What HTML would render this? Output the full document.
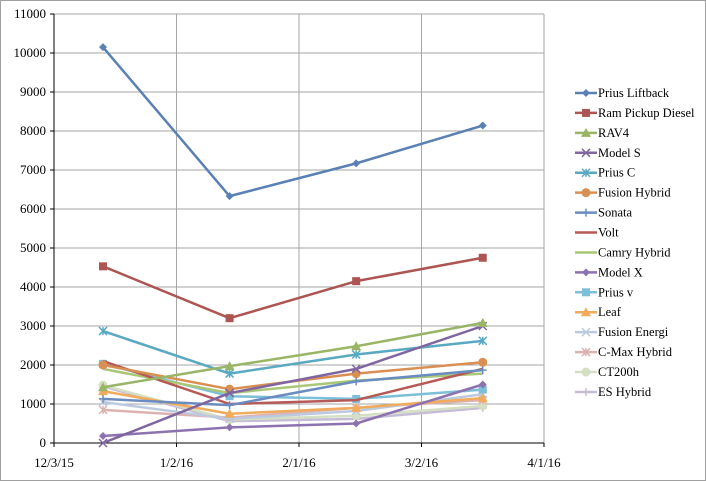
<!DOCTYPE html>
<html><head><meta charset="utf-8"><style>
body{margin:0;background:#fff}
svg{display:block;font-family:"Liberation Serif",serif}
</style></head><body>
<svg id="chart" width="706" height="481" viewBox="0 0 706 481"></svg>
<script>
const xTickLabels=["12/3/15","1/2/16","2/1/16","3/2/16","4/1/16"];
const yTicks=[0,1000,2000,3000,4000,5000,6000,7000,8000,9000,10000,11000];
const pointDays=[12,43,74,105];
const seriesNames=["Prius Liftback","Ram Pickup Diesel","RAV4","Model S","Prius C","Fusion Hybrid","Sonata","Volt","Camry Hybrid","Model X","Prius v","Leaf","Fusion Energi","C-Max Hybrid","CT200h","ES Hybrid"];
const priusLiftback=[10150,6330,7170,8140];
const ramPickup=[4530,3200,4150,4750];
const rav4=[1430,1970,2480,3080];
const modelS=[0,1280,1900,3000];
const priusC=[2870,1780,2270,2620];
const fusionHybrid=[2000,1380,1780,2070];
const sonata=[1130,970,1580,1870];
const volt=[2100,1000,1100,1900];
const camry=[1900,1280,1600,1780];
const modelX=[180,400,500,1500];
const priusV=[2030,1200,1130,1370];
const leaf=[1330,750,900,1150];
const fusionEnergi=[1050,620,820,1250];
const cmax=[850,650,900,1100];
const ct200h=[1480,600,700,950];
const esHybrid=[1450,560,620,900];
const seriesValues=[priusLiftback,ramPickup,rav4,modelS,priusC,fusionHybrid,sonata,volt,camry,modelX,priusV,leaf,fusionEnergi,cmax,ct200h,esHybrid];
const colors=["#5a80b4","#ad5552","#9ab566","#7f66a0","#5aa9c2","#d98f52","#6a8cc0","#b65a57","#a9c777","#8d72b0","#7cbfd8","#f0ab5c","#bccadf","#ddb3b1","#d5dfc3","#c5bcd6"];
const markers=["diamond","square","triangle","x","star","circle","plus","none","none","diamond","square","triangle","x","star","circle","plus"];
const NS="http://www.w3.org/2000/svg";
const svg=document.getElementById("chart");
const X0=54,X1=544,Y0=443,Y1=14,DAYS=120;
const xs=d=>X0+(X1-X0)*d/DAYS;
const ys=v=>Y0-(Y0-Y1)*v/11000;
function mk(t,a,p){const e=document.createElementNS(NS,t);for(const k in a)e.setAttribute(k,a[k]);(p||svg).appendChild(e);return e;}
mk("rect",{x:0.5,y:0.5,width:705,height:480,fill:"#fff",stroke:"#a0a0a0"});
const grid=mk("g",{});


yTicks.forEach((v,i)=>{
 if(i>0){mk("line",{x1:X0,x2:X1,y1:ys(v),y2:ys(v),stroke:"#a6a6a6","stroke-width":1},grid);}
 mk("line",{x1:X0-4,x2:X0,y1:ys(v),y2:ys(v),stroke:"#000"},grid);
 const t=mk("text",{x:X0-8,y:ys(v)+4,"text-anchor":"end","font-size":13},grid);t.textContent=v;
 
 
});
xTickLabels.forEach((l,i)=>{
 const x=xs(i*30);
 if(i>0)mk("line",{x1:x,x2:x,y1:Y1,y2:Y0,stroke:"#a6a6a6"},grid);
 mk("line",{x1:x,x2:x,y1:Y0,y2:Y0+4,stroke:"#000"},grid);
 const t=mk("text",{x:x,y:467,"text-anchor":"middle","font-size":13},grid);t.textContent=l;
 
 
});
mk("line",{x1:X0,x2:X0,y1:Y1,y2:Y0,stroke:"#000"});
mk("line",{x1:X0,x2:X1,y1:Y0,y2:Y0,stroke:"#000"});
function marker(g,type,x,y,c){
 const s=4;
 if(type==="diamond")mk("polygon",{points:`${x},${y-s} ${x+s},${y} ${x},${y+s} ${x-s},${y}`,fill:c},g);
 else if(type==="square")mk("rect",{x:x-s,y:y-s,width:2*s,height:2*s,fill:c},g);
 else if(type==="triangle")mk("polygon",{points:`${x},${y-s-1} ${x+s+1},${y+s} ${x-s-1},${y+s}`,fill:c},g);
 else if(type==="circle")mk("circle",{cx:x,cy:y,r:s+0.5,fill:c},g);
 else if(type==="x"){mk("path",{d:`M${x-s} ${y-s}L${x+s} ${y+s}M${x-s} ${y+s}L${x+s} ${y-s}`,stroke:c,"stroke-width":1.5},g);}
 else if(type==="star"){mk("path",{d:`M${x-s} ${y-s}L${x+s} ${y+s}M${x-s} ${y+s}L${x+s} ${y-s}M${x} ${y-s}L${x} ${y+s}`,stroke:c,"stroke-width":1.5},g);}
 else if(type==="plus"){mk("path",{d:`M${x-s} ${y}L${x+s} ${y}M${x} ${y-s}L${x} ${y+s}`,stroke:c,"stroke-width":1.5},g);}
}
for(let i=seriesValues.length-1;i>=0;i--){
 const g=mk("g",{});
 
 
 const pts=seriesValues[i].map((v,j)=>xs(pointDays[j])+","+ys(v)).join(" ");
 mk("polyline",{points:pts,fill:"none",stroke:colors[i],"stroke-width":2.5,"stroke-linejoin":"round"},g);
 seriesValues[i].forEach((v,j)=>marker(g,markers[i],xs(pointDays[j]),ys(v),colors[i]));
}
const leg=mk("g",{});


seriesNames.forEach((n,i)=>{
 const y=93+i*19.93;
 const g=mk("g",{},leg);
 
 
 mk("line",{x1:575,x2:597,y1:y,y2:y,stroke:colors[i],"stroke-width":2.5},g);
 marker(g,markers[i],586,y,colors[i]);
 const t=mk("text",{x:598,y:y+4,"font-size":12.5},g);t.textContent=n;
});
</script>
</body></html>
